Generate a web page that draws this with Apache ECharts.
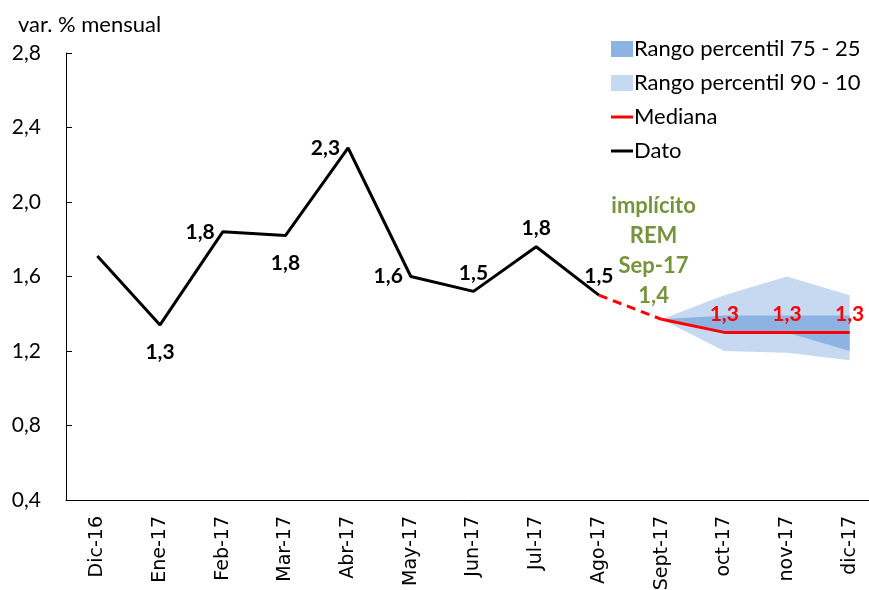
<!DOCTYPE html>
<html>
<head>
<meta charset="utf-8">
<script src="https://cdn.jsdelivr.net/npm/echarts@6/dist/echarts.min.js"></script>
<style>
  html, body { margin: 0; padding: 0; background: #fff; }
  #chart { width: 869px; height: 590px; }
</style>
</head>
<body>
<div id="chart"></div>
<script>
const categories = ['Dic-16', 'Ene-17', 'Feb-17', 'Mar-17', 'Abr-17', 'May-17', 'Jun-17', 'Jul-17', 'Ago-17', 'Sept-17', 'oct-17', 'nov-17', 'dic-17']
// observed data
const dato = [1.71, 1.34, 1.84, 1.82, 2.29, 1.60, 1.52, 1.76, 1.50, '-', '-', '-', '-']
// expectations (REM)
const implicito = ['-', '-', '-', '-', '-', '-', '-', '-', 1.50, 1.37, '-', '-', '-']
const mediana = ['-', '-', '-', '-', '-', '-', '-', '-', '-', 1.37, 1.30, 1.30, 1.30]
const p10 = ['-', '-', '-', '-', '-', '-', '-', '-', '-', 1.37, 1.20, 1.19, 1.15]
const p90 = ['-', '-', '-', '-', '-', '-', '-', '-', '-', 1.37, 1.50, 1.60, 1.50]
const p25 = ['-', '-', '-', '-', '-', '-', '-', '-', '-', 1.37, 1.30, 1.30, 1.20]
const p75 = ['-', '-', '-', '-', '-', '-', '-', '-', '-', 1.37, 1.39, 1.39, 1.39]

const FONT = 'Lato'
const fmt = v => Number(v).toFixed(1).replace('.', ',')
const diff = (hi, lo) => hi.map((v, i) => (v === '-' ? '-' : +(v - lo[i]).toFixed(3)))
const lineIcon = 'path://M0,0h22v3h-22z'

// where the label of each Dato point goes
const datoLabelPos = [null, 'bottom', 'left', 'bottom', 'left', 'left', 'top', 'top', 'top']

const chart = echarts.init(document.getElementById('chart'))

const datoData = dato.map((v, i) => {
  const pos = datoLabelPos[i]
  if (!pos) return v
  const label = { show: true, position: pos }
  if (pos === 'bottom') label.distance = 17
  return { value: v, label: label }
})

const medianaData = mediana.map((v, i) => {
  if (i === 9) {
    return {
      value: v,
      label: {
        show: true,
        position: 'top',
        offset: [-8, -3],
        formatter: 'implícito\nREM\nSep-17\n' + fmt(v),
        color: '#77933C',
        fontSize: 22,
        lineHeight: 30
      }
    }
  }
  if (v === '-') return v
  return { value: v, label: { show: true, position: 'top', distance: 8 } }
})

const options = {
  animation: false,
  grid: { left: 66, top: 53, width: 815, height: 447, outerBoundsMode: 'none' },
  title: {
    text: 'var. % mensual',
    left: 13,
    top: 9,
    textStyle: { fontFamily: FONT, fontSize: 22, fontWeight: 'normal', color: '#000' }
  },
  legend: {
    orient: 'vertical',
    left: 606,
    top: 33,
    itemWidth: 22,
    itemHeight: 16,
    itemGap: 12,
    textStyle: { fontFamily: FONT, fontSize: 22, color: '#000', padding: [0, 0, 0, -4] },
    data: [
      { name: 'Rango percentil 75 - 25', icon: 'rect', itemStyle: { color: '#8DB3E2' } },
      { name: 'Rango percentil 90 - 10', icon: 'rect', itemStyle: { color: '#C6D9F1' } },
      { name: 'Mediana', icon: lineIcon, itemStyle: { color: '#FF0000' } },
      { name: 'Dato', icon: lineIcon, itemStyle: { color: '#000' } }
    ]
  },
  xAxis: {
    type: 'category',
    data: categories,
    axisLine: { lineStyle: { color: '#000', width: 1 } },
    axisTick: { inside: true, length: 7, lineStyle: { color: '#000' } },
    axisLabel: { rotate: 90, interval: 0, margin: 16, fontFamily: 'DejaVu Sans', fontSize: 19, color: '#000' }
  },
  yAxis: {
    type: 'value',
    min: 0.4,
    max: 2.8,
    interval: 0.4,
    axisLine: { show: true, lineStyle: { color: '#000', width: 1 } },
    axisTick: { show: true, inside: true, length: 6, lineStyle: { color: '#000' } },
    splitLine: { show: false },
    axisLabel: { formatter: fmt, margin: 25, fontFamily: FONT, fontSize: 21, color: '#000' }
  },
  series: [
    {
      name: 'base90',
      type: 'line',
      stack: 'b90',
      data: p10,
      symbol: 'none',
      lineStyle: { opacity: 0 },
      silent: true,
      z: 1
    },
    {
      name: 'Rango percentil 90 - 10',
      type: 'line',
      stack: 'b90',
      data: diff(p90, p10),
      symbol: 'none',
      lineStyle: { opacity: 0 },
      areaStyle: { color: '#C6D9F1', opacity: 1 },
      itemStyle: { color: '#C6D9F1' },
      z: 1
    },
    {
      name: 'base75',
      type: 'line',
      stack: 'b75',
      data: p25,
      symbol: 'none',
      lineStyle: { opacity: 0 },
      silent: true,
      z: 2
    },
    {
      name: 'Rango percentil 75 - 25',
      type: 'line',
      stack: 'b75',
      data: diff(p75, p25),
      symbol: 'none',
      lineStyle: { opacity: 0 },
      areaStyle: { color: '#8DB3E2', opacity: 1 },
      itemStyle: { color: '#8DB3E2' },
      z: 2
    },
    {
      name: 'implicito',
      type: 'line',
      data: implicito,
      symbol: 'none',
      lineStyle: { color: '#FF0000', width: 3, type: [9, 6] },
      z: 3
    },
    {
      name: 'Mediana',
      type: 'line',
      data: medianaData,
      symbol: 'circle',
      symbolSize: 0,
      showSymbol: true,
      color: '#FF0000',
      lineStyle: { color: '#FF0000', width: 3 },
      label: {
        formatter: p => fmt(p.value),
        fontFamily: FONT,
        fontSize: 21,
        fontWeight: 'bold',
        color: '#FF0000'
      },
      z: 4
    },
    {
      name: 'Dato',
      type: 'line',
      data: datoData,
      symbol: 'circle',
      symbolSize: 0,
      showSymbol: true,
      color: '#000',
      lineStyle: { color: '#000', width: 3 },
      label: {
        formatter: p => fmt(p.value),
        fontFamily: FONT,
        fontSize: 21,
        fontWeight: 'bold',
        color: '#000',
        distance: 8
      },
      z: 5
    }
  ]
}

chart.setOption(options)
</script>
</body>
</html>
